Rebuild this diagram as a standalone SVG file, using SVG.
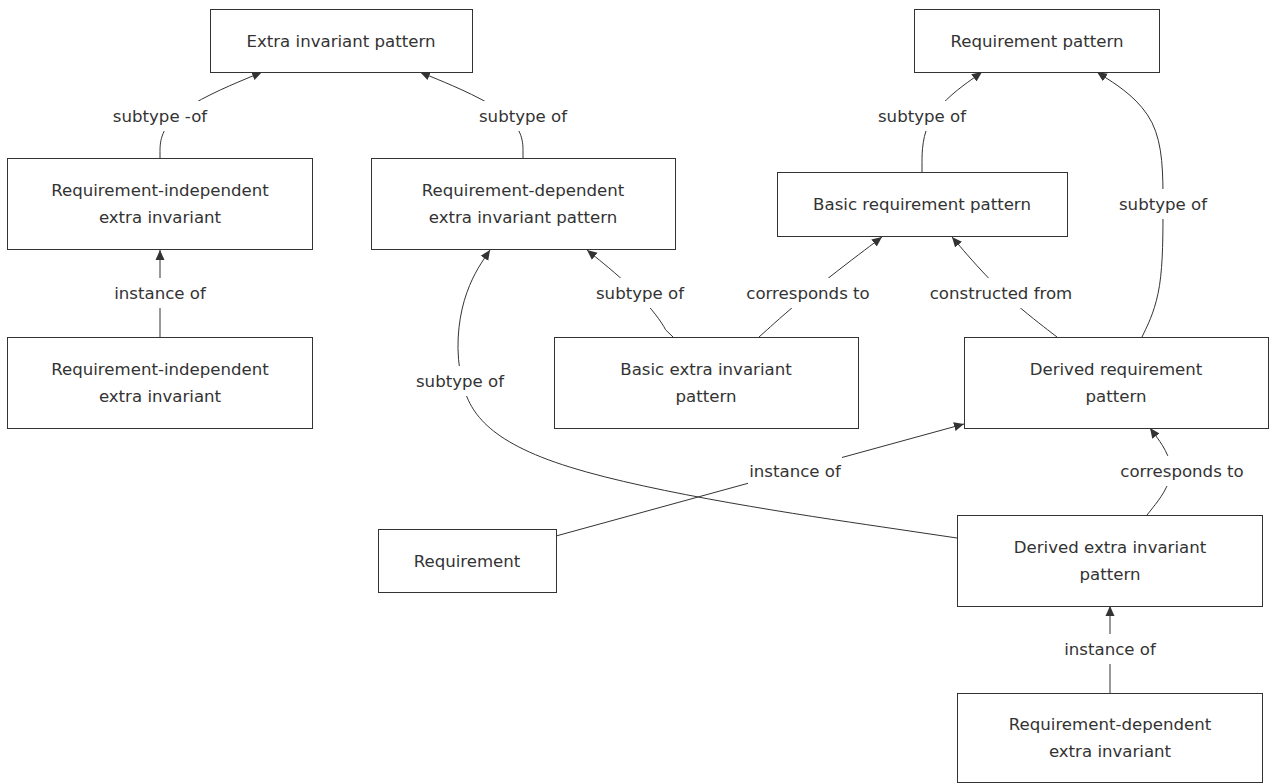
<svg xmlns="http://www.w3.org/2000/svg" width="1272" height="784" viewBox="0 0 1272 784">
<style>
  .node rect { fill: #ffffff; stroke: #333333; stroke-width: 1; }
  .node text, .lbl text { font-family: "DejaVu Sans", "Liberation Sans", sans-serif; font-size: 16.6px; fill: #333333; text-anchor: middle; dominant-baseline: central; }
  .edge { fill: none; stroke: #333333; stroke-width: 1; marker-end: url(#arrow); }
  .lbl rect { fill: #ffffff; stroke: none; }
</style>
<defs>
  <marker id="arrow" viewBox="0 0 10 10" refX="10" refY="5" markerWidth="10" markerHeight="10" markerUnits="userSpaceOnUse" orient="auto">
    <path d="M0,0.5 L10,5 L0,9.5 z" fill="#333333"/>
  </marker>
</defs>
<rect x="0" y="0" width="1272" height="784" fill="#ffffff"/>

<g id="connectors">
  <path class="edge" d="M160,159 L160,151.7 C160,144.3 160,129.7 177,115.2 C194,100.7 228,86.3 245,79.2 L262,72"/>
  <path class="edge" d="M523,158 L523,150.8 C523,143.7 523,129.3 505.8,115 C488.7,100.7 454.3,86.3 437.2,79.2 L420,72"/>
  <path class="edge" d="M160,337 L160,250"/>
  <path class="edge" d="M673,337 L665.5,329.7 C662,322.3 651,307.7 636.7,293.2 C622.3,278.7 604.7,264.3 595.8,257.2 L587,250"/>
  <path class="edge" d="M759,337 L767.2,329.7 C775.3,322.3 791.7,307.7 812.2,291 C832.7,274.3 857.3,255.7 869.7,246.3 L882,237"/>
  <path class="edge" d="M1057,337 L1047.5,329.7 C1038,322.3 1019,307.7 1001.5,291 C984,274.3 968,255.7 960,246.3 L952,237"/>
  <path class="edge" d="M922,172 L922,162.5 C922,153 922,134 932,117.3 C942,100.7 962,86.3 972,79.2 L982,72"/>
  <path class="edge" d="M1142,337 L1145.5,329.7 C1149,322.3 1156,307.7 1159.5,285.5 C1163,263.3 1163,233.7 1163,204 C1163,174.3 1163,144.7 1152,122.7 C1141,100.7 1119,86.3 1108,79.2 L1097,72"/>
  <path class="edge" d="M957,538 L881.3,526.8 C805.7,515.7 654.3,493.3 570.2,467.2 C486,441 469,411 462,381.3 C455,351.7 458,322.3 464.3,300.5 C470.7,278.7 480.3,264.3 485.2,257.2 L490,250"/>
  <path class="edge" d="M556,536 L964,424"/>
  <path class="edge" d="M1147,515 L1152.8,507.7 C1158.7,500.3 1170.3,485.7 1170.8,471.2 C1171.3,456.7 1160.7,442.3 1155.3,435.2 L1150,428"/>
  <path class="edge" d="M1110,693 L1110,606"/>
</g>

<g id="edge-labels" class="lbl">
  <g id="lbl-c-a"><rect x="112" y="101" width="96" height="30"/><text x="160" y="116">subtype -of</text></g>
  <g id="lbl-d-a"><rect x="477" y="101" width="92" height="30"/><text x="523" y="116">subtype of</text></g>
  <g id="lbl-e-b"><rect x="876" y="101" width="92" height="30"/><text x="922" y="116">subtype of</text></g>
  <g id="lbl-h-b"><rect x="1117" y="189" width="92" height="30"/><text x="1163" y="204">subtype of</text></g>
  <g id="lbl-f-c"><rect x="113" y="278" width="94" height="30"/><text x="160" y="293">instance of</text></g>
  <g id="lbl-g-d"><rect x="594" y="278" width="92" height="30"/><text x="640" y="293">subtype of</text></g>
  <g id="lbl-g-e"><rect x="745" y="278" width="126" height="30"/><text x="808" y="293">corresponds to</text></g>
  <g id="lbl-h-e"><rect x="928" y="278" width="146" height="30"/><text x="1001" y="293">constructed from</text></g>
  <g id="lbl-j-d"><rect x="414" y="366" width="92" height="30"/><text x="460" y="381">subtype of</text></g>
  <g id="lbl-i-h"><rect x="748" y="456" width="94" height="30"/><text x="795" y="471">instance of</text></g>
  <g id="lbl-j-h"><rect x="1119" y="456" width="126" height="30"/><text x="1182" y="471">corresponds to</text></g>
  <g id="lbl-k-j"><rect x="1063" y="634" width="94" height="30"/><text x="1110" y="649">instance of</text></g>
</g>

<g id="node-extra-invariant-pattern" class="node">
  <rect x="210.5" y="9.5" width="262" height="63"/>
  <text x="341" y="41">Extra invariant pattern</text>
</g>
<g id="node-requirement-pattern" class="node">
  <rect x="914.5" y="9.5" width="245" height="63"/>
  <text x="1037" y="41">Requirement pattern</text>
</g>
<g id="node-req-independent-top" class="node">
  <rect x="7.5" y="158.5" width="305" height="91"/>
  <text x="160" y="190.5">Requirement-independent</text>
  <text x="160" y="217.5">extra invariant</text>
</g>
<g id="node-req-dependent-pattern" class="node">
  <rect x="371.5" y="158.5" width="304" height="91"/>
  <text x="523" y="190.5">Requirement-dependent</text>
  <text x="523" y="217.5">extra invariant pattern</text>
</g>
<g id="node-basic-requirement-pattern" class="node">
  <rect x="777.5" y="172.5" width="290" height="64"/>
  <text x="922" y="204.5">Basic requirement pattern</text>
</g>
<g id="node-req-independent-bottom" class="node">
  <rect x="7.5" y="337.5" width="305" height="91"/>
  <text x="160" y="369.5">Requirement-independent</text>
  <text x="160" y="396.5">extra invariant</text>
</g>
<g id="node-basic-extra-invariant-pattern" class="node">
  <rect x="554.5" y="337.5" width="304" height="91"/>
  <text x="706" y="369.5">Basic extra invariant</text>
  <text x="706" y="396.5">pattern</text>
</g>
<g id="node-derived-requirement-pattern" class="node">
  <rect x="964.5" y="337.5" width="304" height="91"/>
  <text x="1116" y="369.5">Derived requirement</text>
  <text x="1116" y="396.5">pattern</text>
</g>
<g id="node-requirement" class="node">
  <rect x="378.5" y="529.5" width="178" height="63"/>
  <text x="467" y="561">Requirement</text>
</g>
<g id="node-derived-extra-invariant-pattern" class="node">
  <rect x="957.5" y="515.5" width="305" height="91"/>
  <text x="1110" y="547.5">Derived extra invariant</text>
  <text x="1110" y="574.5">pattern</text>
</g>
<g id="node-req-dependent-instance" class="node">
  <rect x="957.5" y="693.5" width="305" height="89"/>
  <text x="1110" y="724.5">Requirement-dependent</text>
  <text x="1110" y="751.5">extra invariant</text>
</g>
</svg>
